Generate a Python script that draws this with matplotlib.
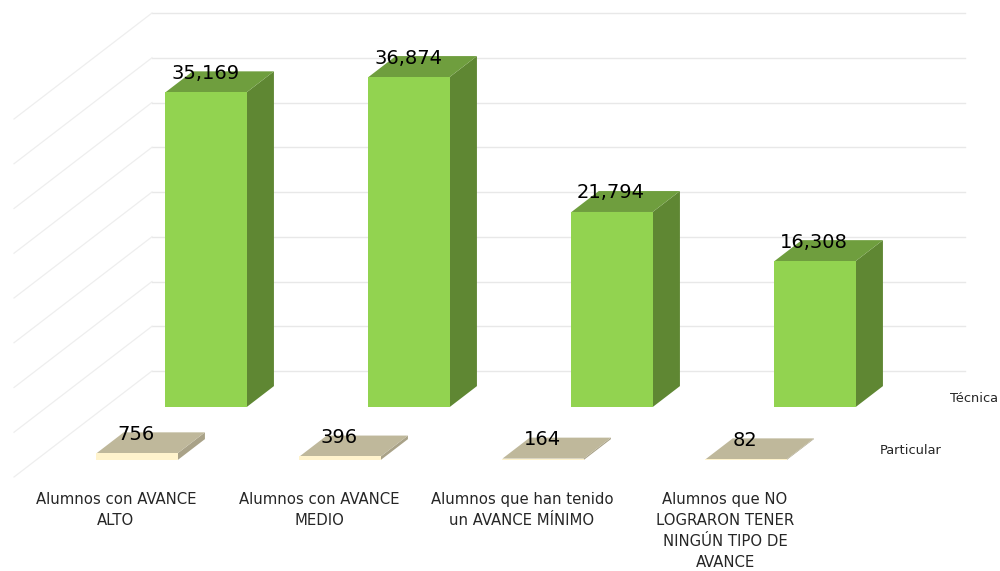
import matplotlib
matplotlib.use("Agg")
import matplotlib.pyplot as plt

categories = ["Alumnos con AVANCE\nALTO", "Alumnos con AVANCE\nMEDIO",
              "Alumnos que han tenido\nun AVANCE MÍNIMO",
              "Alumnos que NO\nLOGRARON TENER\nNINGÚN TIPO DE\nAVANCE"]
tecnica = [35169, 36874, 21794, 16308]
particular = [756, 396, 164, 82]
grid_values = [0, 5000, 10000, 15000, 20000, 25000, 30000, 35000, 40000]

FONT = "DejaVu Sans"
W, H = 1000, 571
PX_PER_CAT = 203.0
PX_PER_VAL = 8.95 / 1000
DX, DY = 69.0, 53.0          # pixel shift per depth row
BAR = 0.40                   # bar width, category units
X0, Y0 = 253.0, 371.0        # pixel of category 0, value 0, back of floor

fig = plt.figure(figsize=(W / 100, H / 100), dpi=100, facecolor="white")
ax = fig.add_axes([0, 0, 1, 1])
ax.set_xlim(-X0 / PX_PER_CAT, (W - X0) / PX_PER_CAT)
ax.set_ylim(-(H - Y0) / PX_PER_VAL, Y0 / PX_PER_VAL)
ax.axis("off")


def project(x, v, z):
    return x - DX * z / PX_PER_CAT, v - DY * z / PX_PER_VAL


def face(points, color, zorder):
    xy = [project(*p) for p in points]
    ax.fill([q[0] for q in xy], [q[1] for q in xy], facecolor=color,
            edgecolor="none", linewidth=0, zorder=zorder)


# walls
x_left = -X0 / PX_PER_CAT + 152 / PX_PER_CAT
x_right = -X0 / PX_PER_CAT + 965 / PX_PER_CAT
for g in grid_values:
    xs, ys = zip(project(x_left, g, 0), project(x_right, g, 0))
    ax.plot(xs, ys, color="#e8e8e8", lw=1.0, zorder=1)
    xs, ys = zip(project(x_left, g, 2), project(x_left, g, 0))
    ax.plot(xs, ys, color="#eeeeee", lw=0.9, zorder=1)


def bar3d(i, value, z_back, z_front, front, top, side, zorder):
    l, r = i - BAR / 2, i + BAR / 2
    face([(r, 0, z_front), (r, 0, z_back), (r, value, z_back), (r, value, z_front)], side, zorder)
    face([(l, value, z_front), (r, value, z_front), (r, value, z_back), (l, value, z_back)], top, zorder)
    face([(l, 0, z_front), (r, 0, z_front), (r, value, z_front), (l, value, z_front)], front, zorder)


rows = [(tecnica, 0.285, 0.68, "#92d350", "#6f9e3e", "#5f8733", 3),
        (particular, 1.285, 1.68, "#fff3cc", "#bfb89b", "#a9a288", 4)]
for series, zb, zf, front, top, side, zo in rows:
    for i, val in enumerate(series):
        bar3d(i, val, zb, zf, front, top, side, zo)
        px, py = project(i, val, zf)
        ax.annotate(f"{val:,}", (px, py), xytext=(-1 * 0.72, 19 * 0.72), textcoords="offset points",
                    ha="center", va="center", fontsize=14, color="black",
                    family=FONT, zorder=10)

for i, label in enumerate(categories):
    px, py = project(i, 0, 2)
    ax.annotate(label, (px, py), xytext=(1 * 0.72, -15 * 0.72), textcoords="offset points",
                ha="center", va="top", fontsize=10.7, color="#262626", family=FONT,
                linespacing=1.5, zorder=10)

fig.text(998 / W, 1 - 398 / H, "Técnica", ha="right", va="center", fontsize=9.4,
         color="#262626", family=FONT)
fig.text(942 / W, 1 - 451 / H, "Particular", ha="right", va="center", fontsize=9.4,
         color="#262626", family=FONT)

fig.savefig("out.png", dpi=100, facecolor="white")
